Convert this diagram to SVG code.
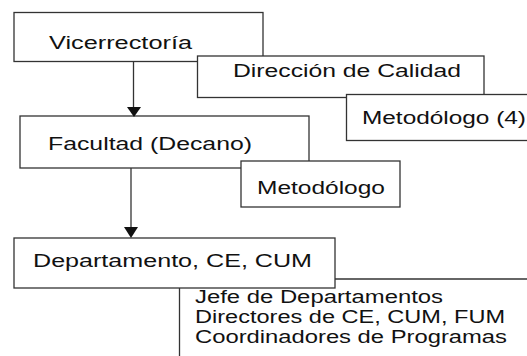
<svg xmlns="http://www.w3.org/2000/svg" width="527" height="356" viewBox="0 0 527 356">
<style>
.box{fill:#fff;stroke:#333;stroke-width:1.3}
.t{font-family:"Liberation Sans",Arial,sans-serif;font-size:17.5px;fill:#111}
.c{fill:none;stroke:#333;stroke-width:1.3}
.ah{fill:#111}
</style>
<rect width="527" height="356" fill="#fff"/>
<g id="vicerrectoria">
<rect class="box" x="14" y="12.5" width="249" height="49"/>
<text class="t" x="49" y="49" textLength="143" lengthAdjust="spacingAndGlyphs">Vicerrectoría</text>
</g>
<g id="direccion">
<rect class="box" x="197.5" y="56" width="286.5" height="41.5"/>
<text class="t" x="233" y="77" textLength="228" lengthAdjust="spacingAndGlyphs">Dirección de Calidad</text>
</g>
<g id="metodologo4">
<rect class="box" x="346.5" y="94.5" width="200" height="46"/>
<text class="t" x="362" y="124" textLength="164" lengthAdjust="spacingAndGlyphs">Metodólogo (4)</text>
</g>
<g id="facultad">
<rect class="box" x="20" y="116" width="289" height="52"/>
<text class="t" x="48" y="150" textLength="204" lengthAdjust="spacingAndGlyphs">Facultad (Decano)</text>
</g>
<g id="metodologo">
<rect class="box" x="241" y="161" width="159" height="46"/>
<text class="t" x="257" y="194" textLength="128" lengthAdjust="spacingAndGlyphs">Metodólogo</text>
</g>
<g id="departamento">
<rect class="box" x="14" y="238" width="321" height="50"/>
<text class="t" x="33" y="267" textLength="279" lengthAdjust="spacingAndGlyphs">Departamento, CE, CUM</text>
</g>
<g id="connectors">
<line class="c" x1="133.5" y1="62" x2="133.5" y2="108"/>
<polygon class="ah" points="127,107 141,107 134,117"/>
<line class="c" x1="131" y1="168" x2="131" y2="228"/>
<polygon class="ah" points="124,227 138,227 131,238"/>
<polyline class="c" points="335,279 527,279"/>
<line class="c" x1="179.5" y1="288" x2="179.5" y2="356"/>
</g>
<g id="cargos">
<text class="t" x="195" y="303" textLength="248" lengthAdjust="spacingAndGlyphs">Jefe de Departamentos</text>
<text class="t" x="195" y="323" textLength="310" lengthAdjust="spacingAndGlyphs">Directores de CE, CUM, FUM</text>
<text class="t" x="195" y="343" textLength="312" lengthAdjust="spacingAndGlyphs">Coordinadores de Programas</text>
</g>
</svg>
